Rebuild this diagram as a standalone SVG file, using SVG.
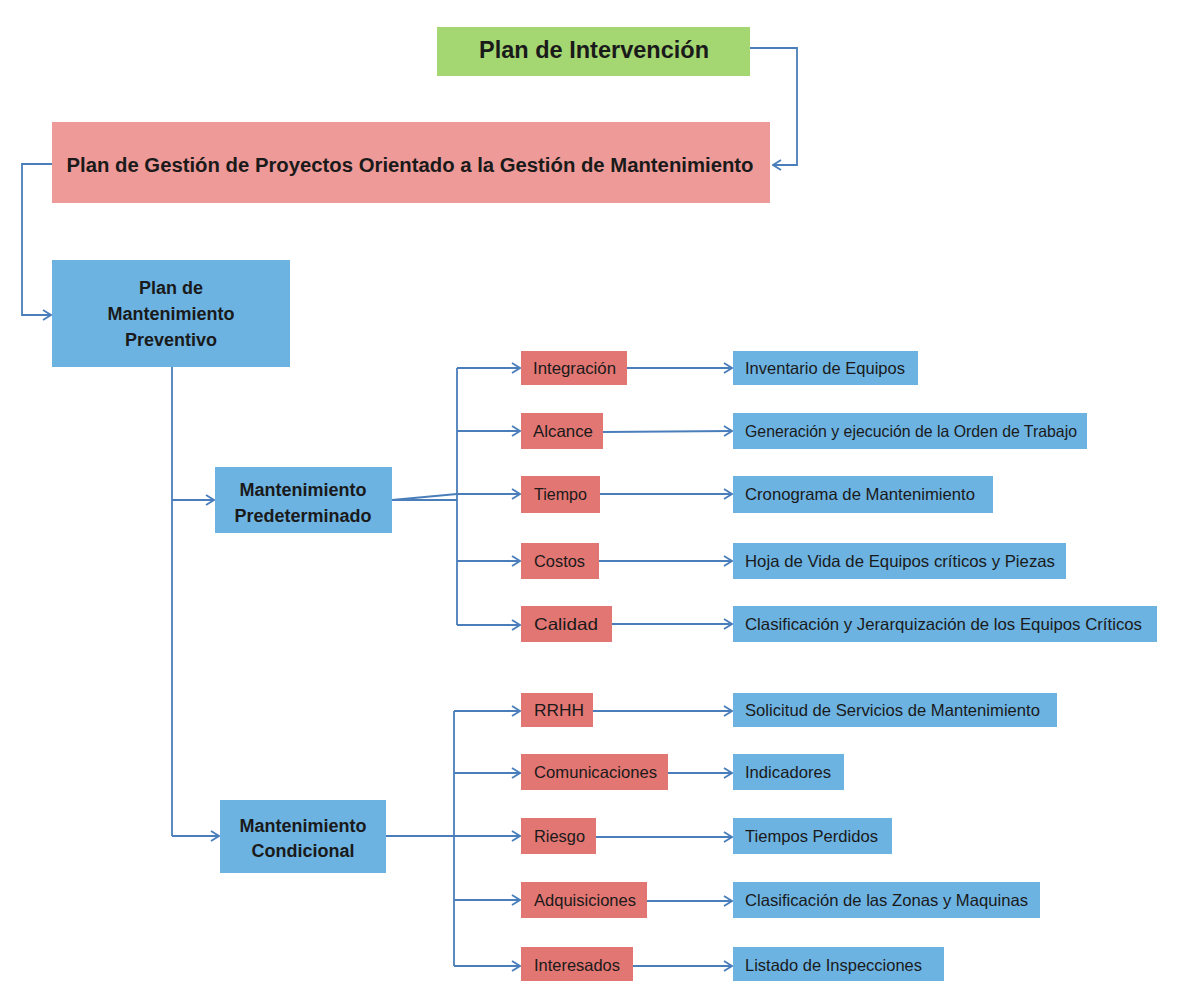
<svg xmlns="http://www.w3.org/2000/svg" width="1190" height="989" viewBox="0 0 1190 989">
<defs>
<marker id="arr" viewBox="0 0 10 12" refX="9" refY="6" markerWidth="10" markerHeight="12" markerUnits="userSpaceOnUse" orient="auto">
<polyline points="1,1 9,6 1,11" fill="none" stroke="#4a7ebb" stroke-width="1.8"/>
</marker>
<style>
.c{fill:none;stroke:#4a7ebb;stroke-width:1.8}
.ca{fill:none;stroke:#4a7ebb;stroke-width:1.8;marker-end:url(#arr)}
.red{fill:#e27673}
.blue{fill:#6cb3e2}
.t{font-family:"Liberation Sans",Arial,sans-serif;font-size:16.5px;fill:#1a1a1a}
.b{font-family:"Liberation Sans",Arial,sans-serif;font-weight:bold;font-size:18px;fill:#1a1a1a;text-anchor:middle}
</style>
</defs>
<rect width="1190" height="989" fill="#ffffff"/>
<g id="connectors">
<polyline class="ca" points="750,48 797,48 797,165 773,165"/>
<polyline class="ca" points="52,164 22,164 22,315 51,315"/>
<polyline class="c" points="172,367 172,836"/>
<line class="ca" x1="172" y1="500" x2="214" y2="500"/>
<line class="ca" x1="172" y1="836" x2="219" y2="836"/>
<line class="c" x1="392" y1="500" x2="457" y2="500"/>
<line class="c" x1="392" y1="500" x2="457" y2="494"/>
<polyline class="c" points="457,368 457,625"/>
<line class="ca" x1="457" y1="368" x2="520" y2="368"/>
<line class="ca" x1="457" y1="431" x2="520" y2="431"/>
<line class="ca" x1="457" y1="494" x2="520" y2="494"/>
<line class="ca" x1="457" y1="561" x2="520" y2="561"/>
<line class="ca" x1="457" y1="625" x2="520" y2="625"/>
<line class="ca" x1="627" y1="368" x2="732" y2="368"/>
<line class="ca" x1="603" y1="432" x2="732" y2="431"/>
<line class="ca" x1="600" y1="494" x2="732" y2="494"/>
<line class="ca" x1="599" y1="561" x2="732" y2="561"/>
<line class="ca" x1="612" y1="624" x2="732" y2="624"/>
<line class="c" x1="386" y1="836" x2="454" y2="836"/>
<polyline class="c" points="454,711 454,966"/>
<line class="ca" x1="454" y1="711" x2="520" y2="711"/>
<line class="ca" x1="454" y1="773" x2="520" y2="773"/>
<line class="ca" x1="454" y1="836" x2="520" y2="836"/>
<line class="ca" x1="454" y1="900" x2="520" y2="900"/>
<line class="ca" x1="454" y1="966" x2="520" y2="966"/>
<line class="ca" x1="593" y1="711" x2="732" y2="711"/>
<line class="ca" x1="668" y1="773" x2="732" y2="773"/>
<line class="ca" x1="596" y1="837" x2="732" y2="837"/>
<line class="ca" x1="647" y1="901" x2="732" y2="901"/>
<line class="ca" x1="633" y1="966" x2="732" y2="966"/>
</g>
<g id="plan-intervencion">
<rect x="437" y="27" width="313" height="49" fill="#a4d672"/>
<text x="594" y="58" font-family="Liberation Sans, Arial, sans-serif" font-weight="bold" font-size="24" fill="#1a1a1a" text-anchor="middle" textLength="230" lengthAdjust="spacingAndGlyphs">Plan de Intervención</text>
</g>
<g id="plan-gestion">
<rect x="52" y="122" width="718" height="81" fill="#ee9a98"/>
<text x="410" y="172" font-family="Liberation Sans, Arial, sans-serif" font-weight="bold" font-size="20" fill="#1a1a1a" text-anchor="middle" textLength="687" lengthAdjust="spacingAndGlyphs">Plan de Gestión de Proyectos  Orientado a la Gestión de Mantenimiento</text>
</g>
<g id="plan-mant-preventivo">
<rect class="blue" x="52" y="260" width="238" height="107"/>
<text class="b" x="171" y="294">Plan de</text>
<text class="b" x="171" y="320">Mantenimiento</text>
<text class="b" x="171" y="346">Preventivo</text>
</g>
<g id="mant-predeterminado">
<rect class="blue" x="215" y="467" width="177" height="66"/>
<text class="b" x="303" y="496">Mantenimiento</text>
<text class="b" x="303" y="522">Predeterminado</text>
</g>
<g id="mant-condicional">
<rect class="blue" x="220" y="800" width="166" height="73"/>
<text class="b" x="303" y="832">Mantenimiento</text>
<text class="b" x="303" y="857">Condicional</text>
</g>
<g id="integracion"><rect class="red" x="521" y="351" width="106" height="34"/><text class="t" x="533" y="374" textLength="83" lengthAdjust="spacingAndGlyphs">Integración</text></g>
<g id="alcance"><rect class="red" x="521" y="413" width="82" height="36"/><text class="t" x="533" y="437" textLength="60" lengthAdjust="spacingAndGlyphs">Alcance</text></g>
<g id="tiempo"><rect class="red" x="521" y="476" width="79" height="37"/><text class="t" x="534" y="500" textLength="53" lengthAdjust="spacingAndGlyphs">Tiempo</text></g>
<g id="costos"><rect class="red" x="521" y="543" width="78" height="36"/><text class="t" x="534" y="567" textLength="51" lengthAdjust="spacingAndGlyphs">Costos</text></g>
<g id="calidad"><rect class="red" x="521" y="606" width="91" height="36"/><text class="t" x="534" y="630" textLength="64" lengthAdjust="spacingAndGlyphs">Calidad</text></g>
<g id="rrhh"><rect class="red" x="521" y="693" width="72" height="34"/><text class="t" x="534" y="716" textLength="50" lengthAdjust="spacingAndGlyphs">RRHH</text></g>
<g id="comunicaciones"><rect class="red" x="521" y="754" width="147" height="36"/><text class="t" x="534" y="778" textLength="123" lengthAdjust="spacingAndGlyphs">Comunicaciones</text></g>
<g id="riesgo"><rect class="red" x="521" y="818" width="75" height="36"/><text class="t" x="534" y="842" textLength="51" lengthAdjust="spacingAndGlyphs">Riesgo</text></g>
<g id="adquisiciones"><rect class="red" x="521" y="882" width="126" height="36"/><text class="t" x="534" y="906" textLength="102" lengthAdjust="spacingAndGlyphs">Adquisiciones</text></g>
<g id="interesados"><rect class="red" x="521" y="947" width="112" height="34"/><text class="t" x="534" y="971" textLength="86" lengthAdjust="spacingAndGlyphs">Interesados</text></g>
<g id="inventario"><rect class="blue" x="733" y="351" width="185" height="34"/><text class="t" x="745" y="374" textLength="160" lengthAdjust="spacingAndGlyphs">Inventario de Equipos</text></g>
<g id="generacion"><rect class="blue" x="733" y="413" width="354" height="36"/><text class="t" x="745" y="437" textLength="332" lengthAdjust="spacingAndGlyphs">Generación  y ejecución de la Orden de Trabajo</text></g>
<g id="cronograma"><rect class="blue" x="733" y="476" width="260" height="37"/><text class="t" x="745" y="500" textLength="230" lengthAdjust="spacingAndGlyphs">Cronograma de Mantenimiento</text></g>
<g id="hoja-vida"><rect class="blue" x="733" y="543" width="333" height="36"/><text class="t" x="745" y="567" textLength="310" lengthAdjust="spacingAndGlyphs">Hoja de Vida de Equipos  críticos y Piezas</text></g>
<g id="clasificacion-jerarquizacion"><rect class="blue" x="733" y="606" width="424" height="36"/><text class="t" x="745" y="630" textLength="397" lengthAdjust="spacingAndGlyphs">Clasificación y Jerarquización de los Equipos Críticos</text></g>
<g id="solicitud"><rect class="blue" x="733" y="693" width="324" height="34"/><text class="t" x="745" y="716" textLength="295" lengthAdjust="spacingAndGlyphs">Solicitud de Servicios de Mantenimiento</text></g>
<g id="indicadores"><rect class="blue" x="733" y="754" width="111" height="36"/><text class="t" x="745" y="778" textLength="86" lengthAdjust="spacingAndGlyphs">Indicadores</text></g>
<g id="tiempos-perdidos"><rect class="blue" x="733" y="818" width="159" height="36"/><text class="t" x="745" y="842" textLength="133" lengthAdjust="spacingAndGlyphs">Tiempos  Perdidos</text></g>
<g id="clasificacion-zonas"><rect class="blue" x="733" y="882" width="307" height="36"/><text class="t" x="745" y="906" textLength="283" lengthAdjust="spacingAndGlyphs">Clasificación de las Zonas y Maquinas</text></g>
<g id="listado"><rect class="blue" x="733" y="947" width="211" height="34"/><text class="t" x="745" y="971" textLength="177" lengthAdjust="spacingAndGlyphs">Listado de Inspecciones</text></g>
</svg>
